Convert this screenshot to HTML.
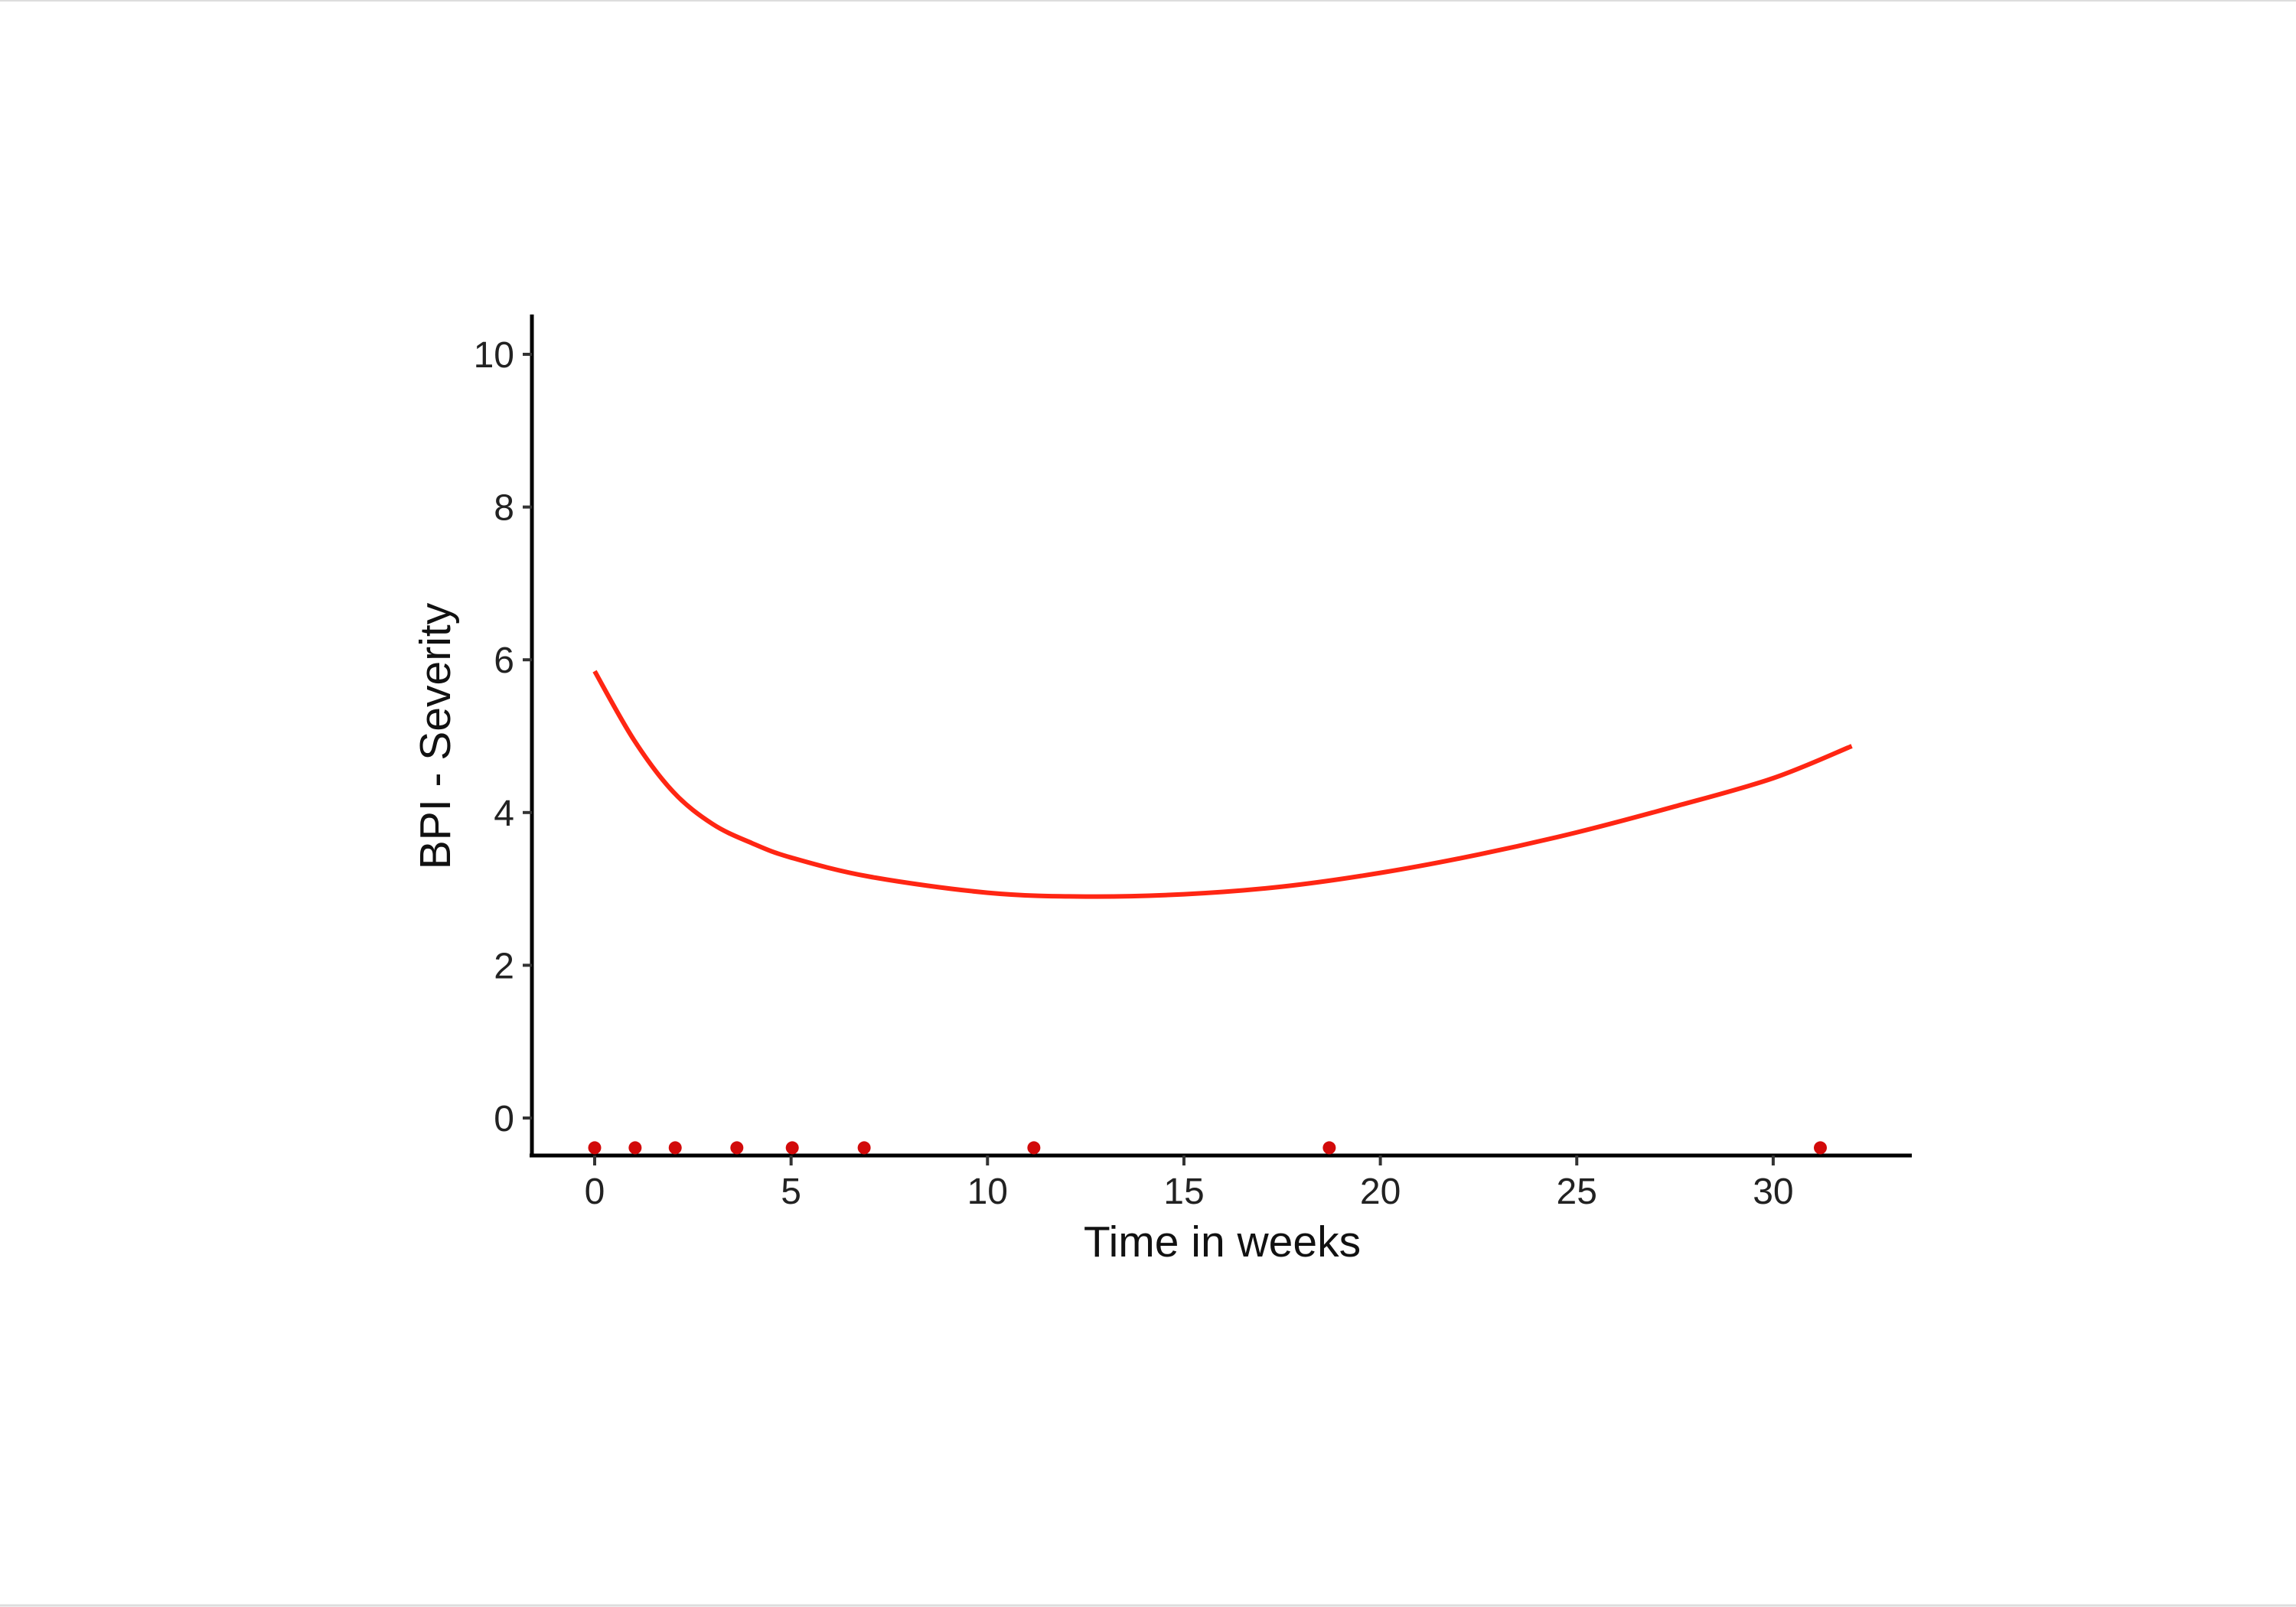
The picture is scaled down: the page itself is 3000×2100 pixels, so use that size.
<!DOCTYPE html>
<html><head><meta charset="utf-8"><style>
html,body{margin:0;padding:0;background:#fff;}
svg{display:block;font-family:"Liberation Sans",Arial,sans-serif;}
</style></head><body>
<svg id="chart" width="3000" height="2100" viewBox="0 0 3000 2100" xmlns="http://www.w3.org/2000/svg">
<rect x="0" y="0" width="3000" height="2100" fill="#fff"/>
<line x1="0" y1="1" x2="3000" y2="1" stroke="#ddd" stroke-width="2"/>
<line x1="0" y1="2098" x2="3000" y2="2098" stroke="#ddd" stroke-width="3"/>
<g id="plot"></g>
</svg>
<script>
const xTicks = [0,5,10,15,20,25,30];
const yTicks = [0,2,4,6,8,10];
const curveX = [0,1,2,3,4,5,7,10,12.5,15,17.5,20,22.5,25,27.5,30,32];
const curveY = [5.85,4.95,4.27,3.85,3.6,3.41,3.16,2.95,2.9,2.93,3.03,3.21,3.45,3.74,4.08,4.45,4.87];
const dotX = [0,1.03,2.05,3.62,5.03,6.86,11.18,18.7,31.2];
const dotY = [-0.39,-0.39,-0.39,-0.39,-0.39,-0.39,-0.39,-0.39,-0.39];

const NS='http://www.w3.org/2000/svg';
const g=document.getElementById('plot');
function sx(v){return 777+v*51.33;}
function sy(v){return 1461-v*99.8;}
function mk(t,a){const e=document.createElementNS(NS,t);for(const k in a)e.setAttribute(k,a[k]);g.appendChild(e);return e;}

// axes
let e=mk('line',{x1:695,y1:411,x2:695,y2:1512,stroke:'#000','stroke-width':5});


e=mk('line',{x1:692,y1:1510,x2:2498,y2:1510,stroke:'#000','stroke-width':5});



yTicks.forEach(v=>{
  let t=mk('line',{x1:683,y1:sy(v),x2:695,y2:sy(v),stroke:'#333','stroke-width':4});
  
  
  let l=mk('text',{x:672,y:sy(v)+17,'text-anchor':'end','font-size':48,fill:'#222'});
  l.textContent=v;
  
  
});
xTicks.forEach(v=>{
  let t=mk('line',{x1:sx(v),y1:1510,x2:sx(v),y2:1523,stroke:'#333','stroke-width':4});
  
  
  let l=mk('text',{x:sx(v),y:1573,'text-anchor':'middle','font-size':48,fill:'#222'});
  l.textContent=v;
  
  
});

let xt=mk('text',{x:1597,y:1642,'text-anchor':'middle','font-size':57,fill:'#111'});
xt.textContent='Time in weeks';


let yt=mk('text',{x:0,y:0,'text-anchor':'middle','font-size':57,fill:'#111',transform:'translate(588,962) rotate(-90)'});
yt.textContent='BPI - Severity';



// curve (smooth via catmull-rom)
const pts=curveX.map((x,i)=>[sx(x),sy(curveY[i])]);
let d='M'+pts[0][0]+','+pts[0][1];
for(let i=0;i<pts.length-1;i++){
  const p0=pts[Math.max(0,i-1)],p1=pts[i],p2=pts[i+1],p3=pts[Math.min(pts.length-1,i+2)];
  const c1=[p1[0]+(p2[0]-p0[0])/6,p1[1]+(p2[1]-p0[1])/6];
  const c2=[p2[0]-(p3[0]-p1[0])/6,p2[1]-(p3[1]-p1[1])/6];
  d+=' C'+c1[0]+','+c1[1]+' '+c2[0]+','+c2[1]+' '+p2[0]+','+p2[1];
}
let c=mk('path',{d:d,fill:'none',stroke:'#ff2613','stroke-width':6,'stroke-linejoin':'round'});



dotX.forEach((x,i)=>{
  let p=mk('circle',{cx:sx(x),cy:sy(dotY[i]),r:8.5,fill:'#d20a0a'});
  
  
});
</script>
</body></html>
